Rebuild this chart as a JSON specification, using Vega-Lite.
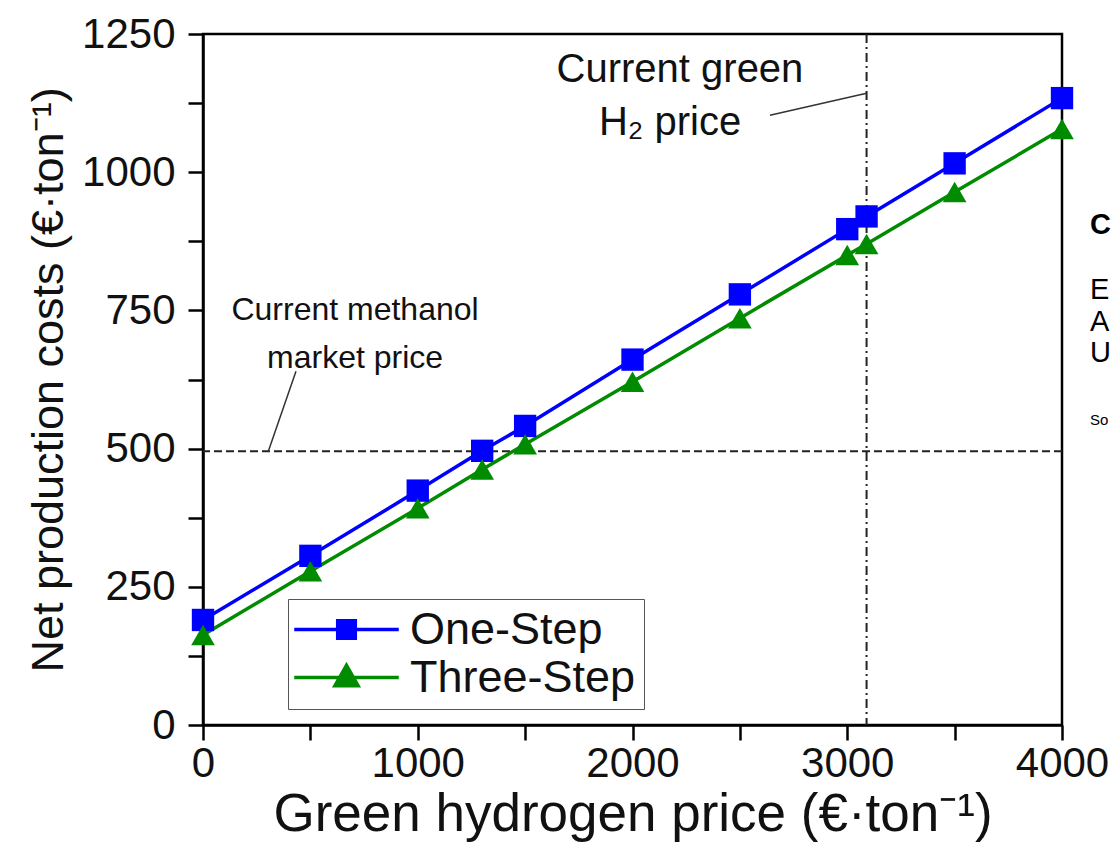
{
  "$schema": "https://vega.github.io/schema/vega-lite/v6.json",
  "width": 859,
  "height": 691,
  "autosize": {"type": "none"},
  "padding": {"left": 203, "top": 34, "right": 55, "bottom": 133},
  "config": {
    "view": {"stroke": "#000", "strokeWidth": 2.5},
    "font": "Liberation Sans",
    "axis": {
      "domainColor": "#000", "domainWidth": 2.5,
      "tickColor": "#000", "tickWidth": 2.5, "tickSize": 15,
      "labelFontSize": 42, "labelColor": "#111", "labelFont": "Liberation Sans",
      "titleFont": "Liberation Sans", "titleFontWeight": "normal", "titleColor": "#111",
      "grid": false, "labelOverlap": false, "labelBound": false, "labelFlush": false
    },
    "legend": {"strokeColor": "#555", "fillColor": "#ffffff"}
  },
  "datasets": {
    "series": [
      {"process": "One-Step", "h2_price": 0, "cost": 190},
      {"process": "One-Step", "h2_price": 500, "cost": 306},
      {"process": "One-Step", "h2_price": 1000, "cost": 424},
      {"process": "One-Step", "h2_price": 1300, "cost": 496},
      {"process": "One-Step", "h2_price": 1500, "cost": 541},
      {"process": "One-Step", "h2_price": 2000, "cost": 661},
      {"process": "One-Step", "h2_price": 2500, "cost": 779},
      {"process": "One-Step", "h2_price": 3000, "cost": 897},
      {"process": "One-Step", "h2_price": 3090, "cost": 920},
      {"process": "One-Step", "h2_price": 3500, "cost": 1016},
      {"process": "One-Step", "h2_price": 4000, "cost": 1134},
      {"process": "Three-Step", "h2_price": 0, "cost": 163},
      {"process": "Three-Step", "h2_price": 500, "cost": 278},
      {"process": "Three-Step", "h2_price": 1000, "cost": 392},
      {"process": "Three-Step", "h2_price": 1300, "cost": 462},
      {"process": "Three-Step", "h2_price": 1500, "cost": 508},
      {"process": "Three-Step", "h2_price": 2000, "cost": 621},
      {"process": "Three-Step", "h2_price": 2500, "cost": 736},
      {"process": "Three-Step", "h2_price": 3000, "cost": 850},
      {"process": "Three-Step", "h2_price": 3090, "cost": 870},
      {"process": "Three-Step", "h2_price": 3500, "cost": 964},
      {"process": "Three-Step", "h2_price": 4000, "cost": 1078}
    ],
    "notes_h2": [
      {"h2_price": 2221, "cost": 1184, "label": "Current green"},
      {"h2_price": 2175, "cost": 1089, "label": "H₂ price"}
    ],
    "notes_methanol": [
      {"h2_price": 708, "cost": 750, "label": "Current methanol"},
      {"h2_price": 708, "cost": 664, "label": "market price"}
    ],
    "leaders": [
      {"h2_price": 3090, "cost": 1143, "h2_price_end": 2640, "cost_end": 1103},
      {"h2_price": 303, "cost": 494, "h2_price_end": 433, "cost_end": 640}
    ],
    "edge_text": [
      {"h2_price": 4130, "cost": 787, "label": "E"},
      {"h2_price": 4130, "cost": 729, "label": "A"},
      {"h2_price": 4130, "cost": 673, "label": "U"}
    ]
  },
  "layer": [
    {
      "data": {"values": [{"cost": 495}]},
      "mark": {"type": "rule", "strokeDash": [8, 4], "strokeWidth": 2, "color": "#222"},
      "encoding": {"y": {"field": "cost", "type": "quantitative"}}
    },
    {
      "data": {"values": [{"h2_price": 3090}]},
      "mark": {"type": "rule", "strokeDash": [9, 4, 2, 4], "strokeWidth": 2, "color": "#222"},
      "encoding": {"x": {"field": "h2_price", "type": "quantitative"}}
    },
    {
      "data": {"name": "leaders"},
      "mark": {"type": "rule", "strokeWidth": 1.5, "color": "#333"},
      "encoding": {
        "x": {"field": "h2_price", "type": "quantitative"},
        "y": {"field": "cost", "type": "quantitative"},
        "x2": {"field": "h2_price_end"},
        "y2": {"field": "cost_end"}
      }
    },
    {
      "data": {"name": "series"},
      "transform": [{"filter": "datum.h2_price < 0"}],
      "mark": {"type": "point", "filled": false, "strokeWidth": 3.5, "opacity": 1},
      "encoding": {
        "x": {"field": "h2_price", "type": "quantitative"},
        "y": {"field": "cost", "type": "quantitative"},
        "color": {
          "field": "process", "type": "nominal",
          "scale": {"domain": ["One-Step", "Three-Step"], "range": ["#0000ff", "#008b00"]},
          "legend": {
            "title": null, "orient": "none", "legendX": 85, "legendY": 565,
            "padding": 8, "strokeColor": "#555", "fillColor": "#ffffff",
            "labelFontSize": 45, "labelFont": "Liberation Sans", "labelColor": "#111", "labelLimit": 500,
            "symbolSize": 484, "symbolOffset": 28, "labelOffset": 41, "rowPadding": 2,
            "symbolStrokeWidth": 3.5, "symbolOpacity": 1
          }
        },
        "shape": {
          "field": "process", "type": "nominal",
          "scale": {
            "domain": ["One-Step", "Three-Step"],
            "range": [
              "M-4.75,0H4.75M-0.8,-0.8H0.8V0.8H-0.8ZM-0.8,-0.6H0.8M-0.8,-0.4H0.8M-0.8,-0.2H0.8M-0.8,0.2H0.8M-0.8,0.4H0.8M-0.8,0.6H0.8",
              "M-4.75,0H4.75M0,-1.1L1.05,0.75H-1.05ZM-0.2,-0.75H0.2M-0.4,-0.4H0.4M-0.6,-0.05H0.6M-0.79,0.3H0.79M-0.9,0.55H0.9"
            ]
          },
          "legend": {
            "title": null, "orient": "none", "legendX": 85, "legendY": 565,
            "padding": 8, "strokeColor": "#555", "fillColor": "#ffffff",
            "labelFontSize": 45, "labelFont": "Liberation Sans", "labelColor": "#111", "labelLimit": 500,
            "symbolSize": 484, "symbolOffset": 28, "labelOffset": 41, "rowPadding": 2,
            "symbolStrokeWidth": 3.5, "symbolOpacity": 1
          }
        }
      }
    },
    {
      "data": {"name": "series"},
      "mark": {"type": "line", "strokeWidth": 3.5},
      "encoding": {
        "x": {
          "field": "h2_price", "type": "quantitative",
          "scale": {"domain": [0, 4000], "nice": false},
          "title": "Green hydrogen price (€·ton⁻¹)",
          "axis": {
            "values": [0, 500, 1000, 1500, 2000, 2500, 3000, 3500, 4000],
            "labelExpr": "datum.value % 1000 === 0 ? '' + datum.value : ''",
            "labelPadding": 3, "titleFontSize": 53, "titlePadding": 4,
            "encode": {"ticks": {"update": {"y2": {"signal": "datum.value % 1000 === 0 ? 15 : 8"}}}}
          }
        },
        "y": {
          "field": "cost", "type": "quantitative",
          "scale": {"domain": [0, 1250], "nice": false},
          "title": "Net production costs (€·ton⁻¹)",
          "axis": {
            "values": [0, 125, 250, 375, 500, 625, 750, 875, 1000, 1125, 1250],
            "labelExpr": "datum.value % 250 === 0 ? '' + datum.value : ''",
            "labelPadding": 13, "titleFontSize": 45, "titlePadding": 10,
            "encode": {"ticks": {"update": {"x2": {"signal": "datum.value % 250 === 0 ? -15 : -8"}}}}
          }
        },
        "color": {"field": "process", "type": "nominal"}
      }
    },
    {
      "data": {"name": "series"},
      "transform": [{"filter": "datum.process === 'One-Step'"}],
      "mark": {"type": "point", "filled": true, "opacity": 1, "size": 500, "shape": "square"},
      "encoding": {
        "x": {"field": "h2_price", "type": "quantitative"},
        "y": {"field": "cost", "type": "quantitative"},
        "color": {"field": "process", "type": "nominal"}
      }
    },
    {
      "data": {"name": "series"},
      "transform": [{"filter": "datum.process === 'Three-Step'"}],
      "mark": {"type": "point", "filled": true, "opacity": 1, "size": 560, "shape": "triangle-up"},
      "encoding": {
        "x": {"field": "h2_price", "type": "quantitative"},
        "y": {"field": "cost", "type": "quantitative"},
        "color": {"field": "process", "type": "nominal"}
      }
    },
    {
      "data": {"name": "notes_h2"},
      "mark": {"type": "text", "fontSize": 40, "font": "Liberation Sans", "color": "#111", "align": "center", "baseline": "middle"},
      "encoding": {
        "x": {"field": "h2_price", "type": "quantitative"},
        "y": {"field": "cost", "type": "quantitative"},
        "text": {"field": "label"}
      }
    },
    {
      "data": {"name": "notes_methanol"},
      "mark": {"type": "text", "fontSize": 32, "font": "Liberation Sans", "color": "#111", "align": "center", "baseline": "middle"},
      "encoding": {
        "x": {"field": "h2_price", "type": "quantitative"},
        "y": {"field": "cost", "type": "quantitative"},
        "text": {"field": "label"}
      }
    },
    {
      "data": {"name": "edge_text"},
      "mark": {"type": "text", "fontSize": 29, "font": "Liberation Sans", "color": "#000", "align": "left", "baseline": "middle", "clip": false},
      "encoding": {
        "x": {"field": "h2_price", "type": "quantitative"},
        "y": {"field": "cost", "type": "quantitative"},
        "text": {"field": "label"}
      }
    },
    {
      "data": {"values": [{"h2_price": 4130, "cost": 904, "label": "C"}]},
      "mark": {"type": "text", "fontSize": 29, "fontWeight": "bold", "font": "Liberation Sans", "color": "#000", "align": "left", "baseline": "middle", "clip": false},
      "encoding": {
        "x": {"field": "h2_price", "type": "quantitative"},
        "y": {"field": "cost", "type": "quantitative"},
        "text": {"field": "label"}
      }
    },
    {
      "data": {"values": [{"h2_price": 4130, "cost": 552, "label": "So"}]},
      "mark": {"type": "text", "fontSize": 15, "font": "Liberation Sans", "color": "#000", "align": "left", "baseline": "middle", "clip": false},
      "encoding": {
        "x": {"field": "h2_price", "type": "quantitative"},
        "y": {"field": "cost", "type": "quantitative"},
        "text": {"field": "label"}
      }
    }
  ]
}
